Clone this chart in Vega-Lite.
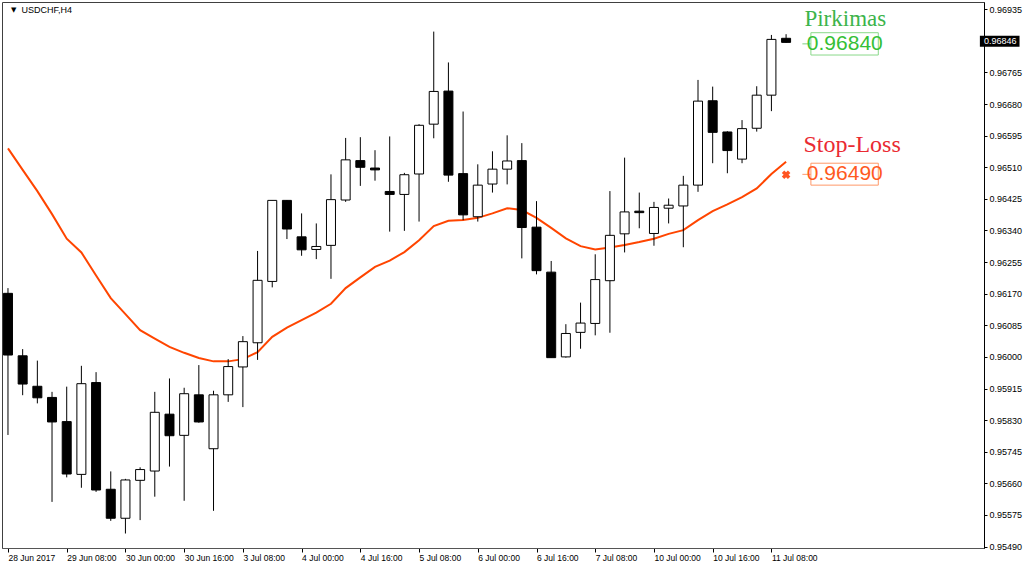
{
  "$schema": "https://vega.github.io/schema/vega-lite/v6.json",
  "width": 982,
  "height": 546,
  "autosize": {"type": "none"},
  "padding": {"left": 2, "top": 2, "right": 40, "bottom": 19},
  "background": "white",
  "config": {
    "view": {"stroke": "#404040", "strokeWidth": 1},
    "font": "Liberation Sans",
    "axis": {"labelOverlap": false, "labelFlush": false, "grid": false, "title": null}
  },
  "datasets": {
    "candles": [
      {"i": 0, "o": 0.96171, "h": 0.96185, "l": 0.95790, "c": 0.96005},
      {"i": 1, "o": 0.96003, "h": 0.96021, "l": 0.95897, "c": 0.95927},
      {"i": 2, "o": 0.95921, "h": 0.95990, "l": 0.95875, "c": 0.95890},
      {"i": 3, "o": 0.95891, "h": 0.95906, "l": 0.95610, "c": 0.95825},
      {"i": 4, "o": 0.95826, "h": 0.95920, "l": 0.95676, "c": 0.95685},
      {"i": 5, "o": 0.95684, "h": 0.95976, "l": 0.95648, "c": 0.95928},
      {"i": 6, "o": 0.95931, "h": 0.95959, "l": 0.95637, "c": 0.95642},
      {"i": 7, "o": 0.95644, "h": 0.95692, "l": 0.95559, "c": 0.95566},
      {"i": 8, "o": 0.95566, "h": 0.95672, "l": 0.95525, "c": 0.95669},
      {"i": 9, "o": 0.95668, "h": 0.95703, "l": 0.95561, "c": 0.95697},
      {"i": 10, "o": 0.95693, "h": 0.95906, "l": 0.95624, "c": 0.95851},
      {"i": 11, "o": 0.95846, "h": 0.95942, "l": 0.95705, "c": 0.95788},
      {"i": 12, "o": 0.95789, "h": 0.95917, "l": 0.95613, "c": 0.95901},
      {"i": 13, "o": 0.95898, "h": 0.95978, "l": 0.95823, "c": 0.95825},
      {"i": 14, "o": 0.95753, "h": 0.95909, "l": 0.95586, "c": 0.95898},
      {"i": 15, "o": 0.95898, "h": 0.95994, "l": 0.95879, "c": 0.95974},
      {"i": 16, "o": 0.95973, "h": 0.96056, "l": 0.95865, "c": 0.96041},
      {"i": 17, "o": 0.96038, "h": 0.96285, "l": 0.95992, "c": 0.96206},
      {"i": 18, "o": 0.96203, "h": 0.96421, "l": 0.96187, "c": 0.96421},
      {"i": 19, "o": 0.96421, "h": 0.96422, "l": 0.96317, "c": 0.96344},
      {"i": 20, "o": 0.96323, "h": 0.96386, "l": 0.96272, "c": 0.96288},
      {"i": 21, "o": 0.96289, "h": 0.96359, "l": 0.96263, "c": 0.96297},
      {"i": 22, "o": 0.96300, "h": 0.96491, "l": 0.96210, "c": 0.96423},
      {"i": 23, "o": 0.96422, "h": 0.96589, "l": 0.96417, "c": 0.96530},
      {"i": 24, "o": 0.96528, "h": 0.96591, "l": 0.96460, "c": 0.96510},
      {"i": 25, "o": 0.96508, "h": 0.96556, "l": 0.96474, "c": 0.96503},
      {"i": 26, "o": 0.96445, "h": 0.96593, "l": 0.96337, "c": 0.96437},
      {"i": 27, "o": 0.96437, "h": 0.96495, "l": 0.96339, "c": 0.96490},
      {"i": 28, "o": 0.96492, "h": 0.96626, "l": 0.96364, "c": 0.96623},
      {"i": 29, "o": 0.96626, "h": 0.96875, "l": 0.96588, "c": 0.96714},
      {"i": 30, "o": 0.96715, "h": 0.96792, "l": 0.96471, "c": 0.96489},
      {"i": 31, "o": 0.96493, "h": 0.96660, "l": 0.96368, "c": 0.96382},
      {"i": 32, "o": 0.96377, "h": 0.96518, "l": 0.96364, "c": 0.96462},
      {"i": 33, "o": 0.96465, "h": 0.96553, "l": 0.96442, "c": 0.96505},
      {"i": 34, "o": 0.96505, "h": 0.96596, "l": 0.96464, "c": 0.96527},
      {"i": 35, "o": 0.96528, "h": 0.96575, "l": 0.96265, "c": 0.96348},
      {"i": 36, "o": 0.96349, "h": 0.96419, "l": 0.96222, "c": 0.96232},
      {"i": 37, "o": 0.96228, "h": 0.96258, "l": 0.95998, "c": 0.95998},
      {"i": 38, "o": 0.96000, "h": 0.96088, "l": 0.95998, "c": 0.96063},
      {"i": 39, "o": 0.96066, "h": 0.96146, "l": 0.96022, "c": 0.96091},
      {"i": 40, "o": 0.96090, "h": 0.96276, "l": 0.96058, "c": 0.96208},
      {"i": 41, "o": 0.96205, "h": 0.96446, "l": 0.96065, "c": 0.96327},
      {"i": 42, "o": 0.96331, "h": 0.96536, "l": 0.96281, "c": 0.96390},
      {"i": 43, "o": 0.96392, "h": 0.96442, "l": 0.96346, "c": 0.96388},
      {"i": 44, "o": 0.96332, "h": 0.96417, "l": 0.96299, "c": 0.96402},
      {"i": 45, "o": 0.96400, "h": 0.96426, "l": 0.96359, "c": 0.96408},
      {"i": 46, "o": 0.96406, "h": 0.96487, "l": 0.96295, "c": 0.96462},
      {"i": 47, "o": 0.96462, "h": 0.96745, "l": 0.96444, "c": 0.96688},
      {"i": 48, "o": 0.96689, "h": 0.96727, "l": 0.96521, "c": 0.96604},
      {"i": 49, "o": 0.96605, "h": 0.96607, "l": 0.96494, "c": 0.96555},
      {"i": 50, "o": 0.96532, "h": 0.96637, "l": 0.96521, "c": 0.96614},
      {"i": 51, "o": 0.96615, "h": 0.96728, "l": 0.96606, "c": 0.96704},
      {"i": 52, "o": 0.96704, "h": 0.96866, "l": 0.96661, "c": 0.96854},
      {"i": 53, "o": 0.96857, "h": 0.96868, "l": 0.96845, "c": 0.96846}
    ],
    "ma": [
      {"i": 0, "v": 0.96561}, {"i": 1, "v": 0.96503}, {"i": 2, "v": 0.96446},
      {"i": 3, "v": 0.96384}, {"i": 4, "v": 0.96318}, {"i": 5, "v": 0.96281},
      {"i": 6, "v": 0.96219}, {"i": 7, "v": 0.96158}, {"i": 8, "v": 0.96115},
      {"i": 9, "v": 0.96072}, {"i": 10, "v": 0.96049}, {"i": 11, "v": 0.96027},
      {"i": 12, "v": 0.96011}, {"i": 13, "v": 0.95997}, {"i": 14, "v": 0.95988},
      {"i": 15, "v": 0.95988}, {"i": 16, "v": 0.95994}, {"i": 17, "v": 0.96013},
      {"i": 18, "v": 0.96054}, {"i": 19, "v": 0.96079}, {"i": 20, "v": 0.96099},
      {"i": 21, "v": 0.96119}, {"i": 22, "v": 0.96143}, {"i": 23, "v": 0.96185},
      {"i": 24, "v": 0.96214}, {"i": 25, "v": 0.96242}, {"i": 26, "v": 0.96259},
      {"i": 27, "v": 0.96282}, {"i": 28, "v": 0.96314}, {"i": 29, "v": 0.96352},
      {"i": 30, "v": 0.96366}, {"i": 31, "v": 0.96368}, {"i": 32, "v": 0.96374},
      {"i": 33, "v": 0.96386}, {"i": 34, "v": 0.96400}, {"i": 35, "v": 0.96395},
      {"i": 36, "v": 0.96374}, {"i": 37, "v": 0.96347}, {"i": 38, "v": 0.96319},
      {"i": 39, "v": 0.96298}, {"i": 40, "v": 0.96289}, {"i": 41, "v": 0.96294},
      {"i": 42, "v": 0.96301}, {"i": 43, "v": 0.96309}, {"i": 44, "v": 0.96318},
      {"i": 45, "v": 0.96331}, {"i": 46, "v": 0.96341}, {"i": 47, "v": 0.96368},
      {"i": 48, "v": 0.96392}, {"i": 49, "v": 0.96410}, {"i": 50, "v": 0.96430},
      {"i": 51, "v": 0.96453}, {"i": 52, "v": 0.96492}, {"i": 53, "v": 0.96525}
    ]
  },
  "layer": [
    {
      "data": {"name": "ma"},
      "mark": {"type": "line", "color": "#ff4500", "strokeWidth": 2},
      "encoding": {
        "x": {
          "field": "i", "type": "quantitative", "title": null,
          "scale": {"domain": [-0.067, 66.14], "nice": false, "zero": false},
          "axis": {
            "values": [0, 4, 8, 12, 16, 20, 24, 28, 32, 36, 40, 44, 48, 52],
            "tickCount": 40,
            "labelExpr": "['28 Jun 2017','29 Jun 08:00','30 Jun 00:00','30 Jun 16:00','3 Jul 08:00','4 Jul 00:00','4 Jul 16:00','5 Jul 08:00','6 Jul 00:00','6 Jul 16:00','7 Jul 08:00','10 Jul 00:00','10 Jul 16:00','11 Jul 08:00'][round(datum.value/4)]",
            "labelAlign": "left",
            "labelFontSize": 8.5,
            "labelColor": "#000",
            "labelPadding": 1,
            "labelOverlap": false,
            "labelFlush": false,
            "tickSize": 4,
            "tickColor": "#000",
            "domainColor": "#555",
            "grid": false
          }
        },
        "y": {
          "field": "v", "type": "quantitative", "title": null,
          "scale": {"domain": [0.95486, 0.969546], "nice": false, "zero": false},
          "axis": {
            "orient": "right",
            "values": [0.9549, 0.95575, 0.9566, 0.95745, 0.9583, 0.95915, 0.96, 0.96085, 0.9617, 0.96255, 0.9634, 0.96425, 0.9651, 0.96595, 0.9668, 0.96765, 0.96935],
            "tickCount": 40,
            "format": ".5f",
            "labelFontSize": 9,
            "labelColor": "#000",
            "labelPadding": 2,
            "labelOverlap": false,
            "labelFlush": false,
            "tickSize": 3,
            "tickColor": "#000",
            "domainColor": "#000",
            "grid": false
          }
        }
      }
    },
    {
      "data": {"name": "candles"},
      "mark": {"type": "rule", "color": "#000", "strokeWidth": 1},
      "encoding": {
        "x": {"field": "i", "type": "quantitative", "title": null},
        "y": {"field": "l", "type": "quantitative", "title": null},
        "y2": {"field": "h"}
      }
    },
    {
      "data": {"name": "candles"},
      "mark": {"type": "bar", "width": 9, "stroke": "#000", "strokeWidth": 1},
      "encoding": {
        "x": {"field": "i", "type": "quantitative", "title": null},
        "y": {"field": "o", "type": "quantitative", "title": null},
        "y2": {"field": "c"},
        "fill": {"condition": {"test": "datum.c >= datum.o", "value": "#ffffff"}, "value": "#000000"}
      }
    },
    {
      "data": {"values": [{"label": "Pirkimas"}]},
      "mark": {"type": "text", "font": "Liberation Serif", "fontSize": 23, "color": "#3cb44b", "align": "left", "baseline": "alphabetic"},
      "encoding": {
        "x": {"datum": 54.25, "type": "quantitative"},
        "y": {"datum": 0.96889, "type": "quantitative"},
        "text": {"field": "label"}
      }
    },
    {
      "data": {"values": [{"label": "Stop-Loss"}]},
      "mark": {"type": "text", "font": "Liberation Serif", "fontSize": 24, "color": "#ea2a32", "align": "left", "baseline": "alphabetic"},
      "encoding": {
        "x": {"datum": 54.18, "type": "quantitative"},
        "y": {"datum": 0.96550, "type": "quantitative"},
        "text": {"field": "label"}
      }
    },
    {
      "data": {"values": [{"k": "buy"}]},
      "mark": {"type": "rule", "color": "#7fd07f", "strokeWidth": 1},
      "encoding": {
        "x": {"datum": 54.11, "type": "quantitative"},
        "x2": {"datum": 54.69},
        "y": {"datum": 0.96842, "type": "quantitative"}
      }
    },
    {
      "data": {"values": [{"k": "buy"}]},
      "mark": {"type": "rect", "fill": "#ffffff", "stroke": "#8ad88a", "strokeWidth": 1},
      "encoding": {
        "x": {"datum": 54.69, "type": "quantitative"},
        "x2": {"datum": 59.28},
        "y": {"datum": 0.96872, "type": "quantitative"},
        "y2": {"datum": 0.96812}
      }
    },
    {
      "data": {"values": [{"label": "0.96840"}]},
      "mark": {"type": "text", "font": "Liberation Sans Narrow, Liberation Sans", "fontSize": 21, "color": "#35c035", "align": "center", "baseline": "middle"},
      "encoding": {
        "x": {"datum": 57.0, "type": "quantitative"},
        "y": {"datum": 0.96842, "type": "quantitative"},
        "text": {"field": "label"}
      }
    },
    {
      "data": {"values": [{"k": "sl"}]},
      "mark": {"type": "rule", "color": "#ff9a70", "strokeWidth": 1},
      "encoding": {
        "x": {"datum": 54.11, "type": "quantitative"},
        "x2": {"datum": 54.69},
        "y": {"datum": 0.96491, "type": "quantitative"}
      }
    },
    {
      "data": {"values": [{"k": "sl"}]},
      "mark": {"type": "rect", "fill": "#ffffff", "stroke": "#ff9868", "strokeWidth": 1},
      "encoding": {
        "x": {"datum": 54.69, "type": "quantitative"},
        "x2": {"datum": 59.28},
        "y": {"datum": 0.96521, "type": "quantitative"},
        "y2": {"datum": 0.96462}
      }
    },
    {
      "data": {"values": [{"label": "0.96490"}]},
      "mark": {"type": "text", "font": "Liberation Sans Narrow, Liberation Sans", "fontSize": 21, "color": "#ff5a1e", "align": "center", "baseline": "middle"},
      "encoding": {
        "x": {"datum": 57.0, "type": "quantitative"},
        "y": {"datum": 0.96491, "type": "quantitative"},
        "text": {"field": "label"}
      }
    },
    {
      "data": {"values": [{"k": "sl"}]},
      "mark": {"type": "point", "shape": "cross", "angle": 45, "filled": true, "size": 75, "color": "#ff5522", "opacity": 1},
      "encoding": {
        "x": {"datum": 53.0, "type": "quantitative"},
        "y": {"datum": 0.9649, "type": "quantitative"}
      }
    },
    {
      "data": {"values": [{"k": "last"}]},
      "mark": {"type": "rect", "fill": "#000000"},
      "encoding": {
        "x": {"datum": 66.2, "type": "quantitative"},
        "x2": {"datum": 68.9},
        "y": {"datum": 0.96864, "type": "quantitative"},
        "y2": {"datum": 0.96834}
      }
    },
    {
      "data": {"values": [{"label": "0.96846"}]},
      "mark": {"type": "text", "fontSize": 9, "color": "#ffffff", "align": "left", "baseline": "middle", "dx": 4},
      "encoding": {
        "x": {"datum": 66.2, "type": "quantitative"},
        "y": {"datum": 0.96849, "type": "quantitative"},
        "text": {"field": "label"}
      }
    },
    {
      "data": {"values": [{"label": "▼"}]},
      "mark": {"type": "text", "font": "DejaVu Sans", "fontSize": 7, "color": "#000", "align": "left", "baseline": "middle"},
      "encoding": {
        "x": {"datum": 0.2, "type": "quantitative"},
        "y": {"datum": 0.96933, "type": "quantitative"},
        "text": {"field": "label"}
      }
    },
    {
      "data": {"values": [{"label": "USDCHF,H4"}]},
      "mark": {"type": "text", "fontSize": 9, "color": "#000", "align": "left", "baseline": "middle"},
      "encoding": {
        "x": {"datum": 0.92, "type": "quantitative"},
        "y": {"datum": 0.96933, "type": "quantitative"},
        "text": {"field": "label"}
      }
    }
  ]
}
